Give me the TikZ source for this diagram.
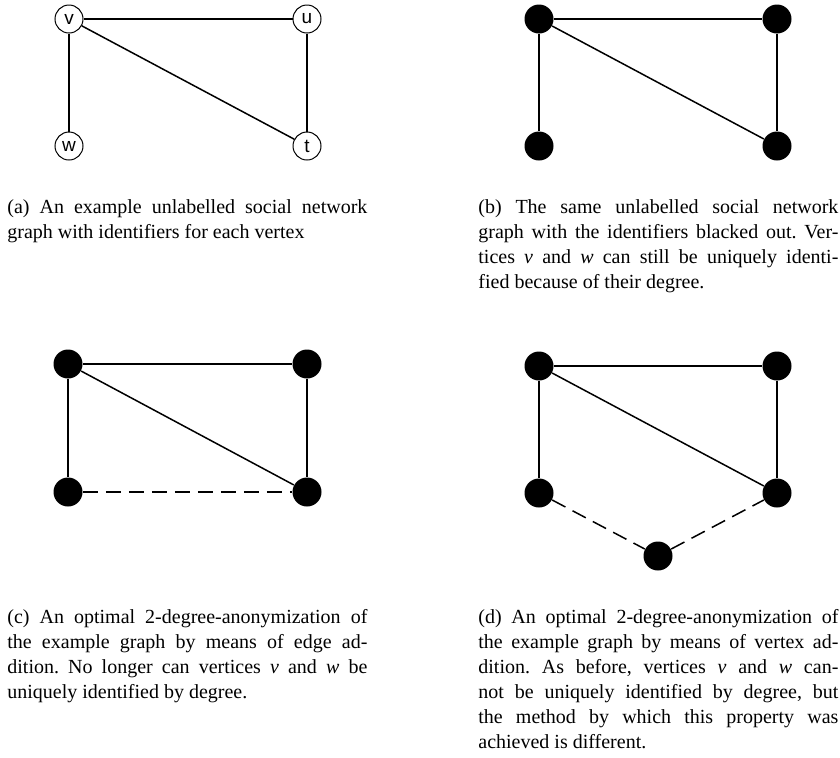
\documentclass[tikz,border=0pt]{standalone}
\usepackage{fontspec}
\setmainfont{Liberation Serif}
\newfontfamily\labelfont{Liberation Sans}
\newcommand\jline[1]{\noindent{\spaceskip=0pt\xspaceskip=0pt\hbox to 180pt{#1}}\par}
\newcommand\lline[1]{\noindent{\spaceskip=0pt\xspaceskip=0pt\hbox{#1}}\par}
\begin{document}
\begin{tikzpicture}[x=0.5pt,y=-0.5pt,
  vtx/.style={circle,draw,fill=white,line width=0.5pt,minimum size=14pt,inner sep=0pt,font=\labelfont\fontsize{9.5}{11}\selectfont},
  blk/.style={circle,fill=black,minimum size=14.5pt,inner sep=0pt},
  edge/.style={line width=0.75pt},
  added/.style={line width=0.75pt,dash pattern=on 7.5pt off 4pt},
  captext/.style={anchor=base west,inner sep=0pt,text width=180pt,font=\fontsize{10}{12.5}\selectfont\frenchspacing}]
\useasboundingbox (0,0) rectangle (840,757);
% (a)
\node[vtx] (av) at (69,19) {v};
\node[vtx] (au) at (307,19) {u};
\node[vtx] (aw) at (69,146) {w};
\node[vtx] (at) at (307,146) {t};
\draw[edge] (av) -- (au);
\draw[edge] (av) -- (aw);
\draw[edge] (av) -- (at);
\draw[edge] (au) -- (at);
% (b)
\node[blk] (bv) at (539,19) {};
\node[blk] (bu) at (777,19) {};
\node[blk] (bw) at (539,146) {};
\node[blk] (bt) at (777,146) {};
\draw[edge] (bv) -- (bu);
\draw[edge] (bv) -- (bw);
\draw[edge] (bv) -- (bt);
\draw[edge] (bu) -- (bt);
% (c)
\node[blk] (cv) at (68,364) {};
\node[blk] (cu) at (307,364) {};
\node[blk] (cw) at (68,492) {};
\node[blk] (ct) at (307,492) {};
\draw[edge] (cv) -- (cu);
\draw[edge] (cv) -- (cw);
\draw[edge] (cv) -- (ct);
\draw[edge] (cu) -- (ct);
\draw[added] (cw) -- (ct);
% (d)
\node[blk] (dv) at (539,366) {};
\node[blk] (du) at (777,366) {};
\node[blk] (dw) at (539,493) {};
\node[blk] (dt) at (777,493) {};
\node[blk] (dx) at (658,556) {};
\draw[edge] (dv) -- (du);
\draw[edge] (dv) -- (dw);
\draw[edge] (dv) -- (dt);
\draw[edge] (du) -- (dt);
\draw[added] (dw) -- (dx);
\draw[added] (dx) -- (dt);
% captions
\node[captext] (capa) at (7,213) {\jline{(a) An example unlabelled social network}\lline{graph with identifiers for each vertex}};
\node[captext] (capb) at (478,213) {\jline{(b) The same unlabelled social network}\jline{graph with the identifiers blacked out. Ver-}\jline{tices \textit{v} and \textit{w} can still be uniquely identi-}\lline{fied because of their degree.}};
\node[captext] (capc) at (7,623) {\jline{(c) An optimal 2-degree-anonymization of}\jline{the example graph by means of edge ad-}\jline{dition. No longer can vertices \textit{v} and \textit{w} be}\lline{uniquely identified by degree.}};
\node[captext] (capd) at (478,623) {\jline{(d) An optimal 2-degree-anonymization of}\jline{the example graph by means of vertex ad-}\jline{dition. As before, vertices \textit{v} and \textit{w} can-}\jline{not be uniquely identified by degree, but}\jline{the method by which this property was}\lline{achieved is different.}};
\end{tikzpicture}
\end{document}
